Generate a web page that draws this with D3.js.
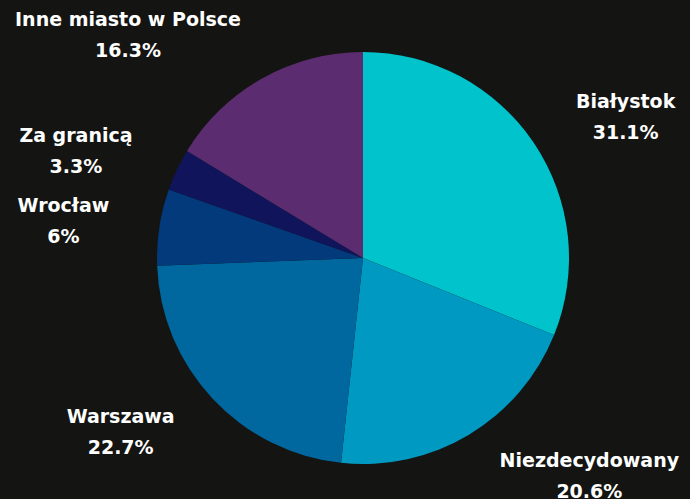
<!DOCTYPE html>
<html>
<head>
<meta charset="utf-8">
<script src="https://cdn.jsdelivr.net/npm/d3@7"></script>
<style>
  html, body { margin: 0; padding: 0; background: #141512; }
  svg { display: block; }
  .lbl { font-family: "DejaVu Sans", sans-serif; font-weight: 700; font-size: 19px; fill: #ffffff; }
</style>
</head>
<body>
<div id="chart"></div>
<script>
// data
var categories = ["Białystok", "Niezdecydowany", "Warszawa", "Wrocław", "Za granicą", "Inne miasto w Polsce"];
var values = [31.1, 20.6, 22.7, 6, 3.3, 16.3];
var valueLabels = ["31.1%", "20.6%", "22.7%", "6%", "3.3%", "16.3%"];
var colors = ["#00c3cc", "#0099c1", "#00679f", "#023a7b", "#10145a", "#5b2c6f"];

var width = 690;
var height = 499;
var cx = 363, cy = 258;
var radius = 206;
var labelRadius = 300;
var lineGap = 31;

// label nudges from the label arc centroid
var nudge = [[14, 18], [72, -48], [-23, -40], [-3, -1], [-16, 13], [-88, 30]];

var svg = d3.select("#chart")
  .append("svg")
  .attr("width", width)
  .attr("height", height);

var pie = d3.pie().sort(null).value(function(d) { return d; });
var arcs = pie(values);

var arc = d3.arc().innerRadius(0).outerRadius(radius);
var labelArc = d3.arc().innerRadius(labelRadius).outerRadius(labelRadius);

var g = svg.append("g").attr("transform", "translate(" + cx + "," + cy + ")");

g.selectAll("path.slice")
  .data(arcs)
  .enter()
  .append("path")
  .attr("class", "slice")
  .attr("d", arc)
  .attr("fill", function(d, i) { return colors[i]; });

var labels = g.selectAll("g.label")
  .data(arcs)
  .enter()
  .append("g")
  .attr("class", "label")
  .attr("transform", function(d, i) {
    var c = labelArc.centroid(d);
    return "translate(" + (c[0] + nudge[i][0]) + "," + (c[1] + nudge[i][1]) + ")";
  });

labels.append("text")
  .attr("class", "lbl")
  .attr("text-anchor", "middle")
  .attr("y", 0)
  .text(function(d, i) { return categories[i]; });

labels.append("text")
  .attr("class", "lbl")
  .attr("text-anchor", "middle")
  .attr("y", lineGap)
  .text(function(d, i) { return valueLabels[i]; });
</script>
</body>
</html>
